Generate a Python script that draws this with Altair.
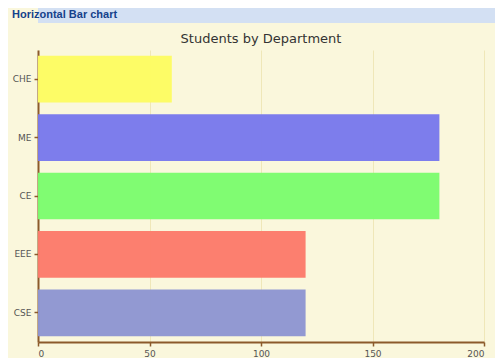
import altair as alt
import pandas as pd

panel_title = ["Horizontal Bar chart"]
chart_title = "Students by Department"
departments = ["CSE", "EEE", "CE", "ME", "CHE"]
students = [120, 120, 180, 180, 60]
bar_colors = ["#8e96d2", "#fc7b6b", "#7cfc6e", "#7979ec", "#fdfc62"]
order_top_down = ["CHE", "ME", "CE", "EEE", "CSE"]
x_ticks = [0, 50, 100, 150, 200]

df = pd.DataFrame({"dept": departments, "students": students})
hdr = pd.DataFrame({"t": panel_title})

cream = "#faf7dc"
brown = "#8b5a2b"

header = (
    alt.Chart(hdr)
    .mark_text(align="left", baseline="middle", font="Liberation Sans",
               fontWeight="bold", fontSize=11, color="#15428b")
    .encode(text="t:N", x=alt.value(-26), y=alt.value(7))
    .properties(
        width=457, height=15,
        view=alt.ViewBackground(fill="#d3e0f3", stroke=None),
    )
)

bars = (
    alt.Chart(df)
    .mark_bar(opacity=0.97)
    .encode(
        x=alt.X("students:Q", scale=alt.Scale(domain=[0, 200], nice=False),
                axis=alt.Axis(values=x_ticks, title=None)),
        y=alt.Y("dept:N", sort=order_top_down,
                scale=alt.Scale(paddingInner=0.2, paddingOuter=0.1),
                axis=alt.Axis(title=None, minExtent=30, maxExtent=30)),
        color=alt.Color("dept:N", scale=alt.Scale(domain=departments, range=bar_colors),
                        legend=None),
    )
    .properties(
        width=446, height=292,
        view=alt.ViewBackground(fill=cream, stroke=None),
        title=alt.TitleParams(chart_title, fontSize=13, font="DejaVu Sans",
                              fontWeight="normal", color="#333333", offset=4),
    )
)

chart = (
    alt.vconcat(header, bars, spacing=10)
    .properties(background=cream, padding={"left": 0, "right": 0, "top": 0, "bottom": 0})
    .configure_view(stroke=None)
    .configure_axis(
        domainColor=brown, domainWidth=2, tickColor=brown, tickWidth=1.5, tickSize=4,
        labelFont="DejaVu Sans", labelFontSize=9, labelColor="#555555", labelPadding=3,
        gridColor="#e9dfa8", gridOpacity=0.7, zindex=1,
    )
)

chart.save("out.html", embed_options={"renderer": "svg", "actions": False})
